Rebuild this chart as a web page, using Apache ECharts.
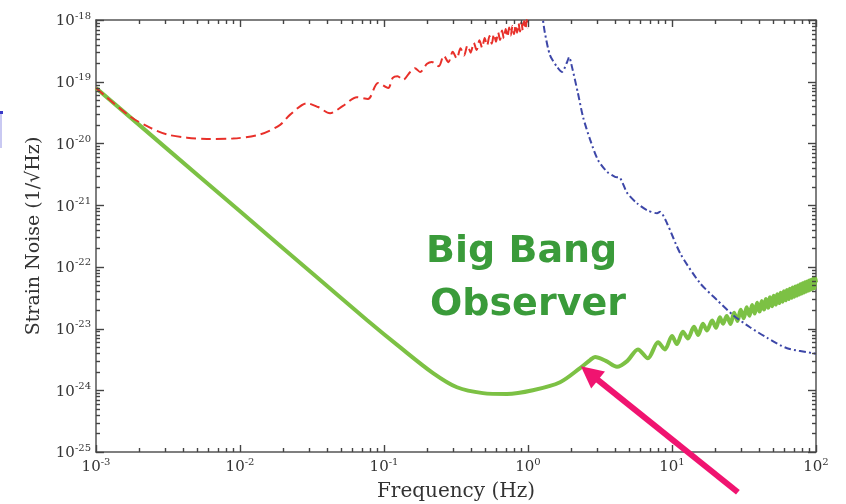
<!DOCTYPE html>
<html><head><meta charset="utf-8">
<script src="https://cdn.jsdelivr.net/npm/echarts@6/dist/echarts.min.js"></script>
<style>html,body{margin:0;padding:0;background:#fff}#c{width:846px;height:504px}</style>
</head><body><div id="c"></div>
<script>
// Axis decades (tick labels) and minor multipliers
const xDecades = [1e-3, 1e-2, 1e-1, 1e0, 1e1, 1e2];
const yDecades = [1e-25, 1e-24, 1e-23, 1e-22, 1e-21, 1e-20, 1e-19, 1e-18];
const minorMultipliers = [2, 3, 4, 5, 6, 7, 8, 9];

// Big Bang Observer (green solid)
const bboFreq = [1e-3, 3.16e-3, 1e-2, 3.16e-2, 7.6e-2, 0.129, 0.219, 0.321, 0.486, 0.714, 1.08, 1.67, 2.30, 2.70, 2.92, 3.47, 4.15, 4.9, 5.8, 6.8, 8.0, 8.93, 10.0, 10.8, 11.9, 12.9, 14.2, 15.2, 16.4, 17.5, 19.0, 20.2, 21.5, 22.6,
  24, 25.5, 27, 28.5, 30, 31.5, 33, 34.5, 36, 37.5, 39, 40.5, 42, 43.5, 45, 46.5, 48, 49.5, 51, 52.5, 54, 55.5, 57, 58.5, 60, 61.5, 63, 64.5, 66, 67.5, 69, 70.5, 72, 73.5, 75, 76.5, 78, 79.5, 81, 82.5, 84, 85.5, 87, 88.5, 90, 91.5, 93, 94.5, 96, 97.5, 99, 100];
const bboStrain = [7.94e-20, 7.94e-21, 7.94e-22, 7.94e-23, 1.38e-23, 5.0e-24, 1.9e-24, 1.12e-24, 9.0e-25, 8.7e-25, 1.0e-24, 1.35e-24, 2.29e-24, 3.09e-24, 3.47e-24, 3.0e-24, 2.4e-24, 3.0e-24, 4.6e-24, 3.3e-24, 6.0e-24, 4.6e-24, 7.6e-24, 5.6e-24, 8.9e-24, 6.9e-24, 1.07e-23, 7.9e-24, 1.2e-23, 9.3e-24, 1.35e-23, 1.03e-23, 1.52e-23, 1.2e-23,
  1.60e-23, 1.19e-23, 1.81e-23, 1.33e-23, 2.01e-23, 1.47e-23, 2.21e-23, 1.61e-23, 2.41e-23, 1.75e-23, 2.61e-23, 1.89e-23, 2.81e-23, 2.03e-23, 3.01e-23, 2.17e-23, 3.21e-23, 2.31e-23, 3.41e-23, 2.45e-23, 3.61e-23, 2.59e-23, 3.81e-23, 2.73e-23, 4.01e-23, 2.87e-23, 4.21e-23, 3.01e-23, 4.41e-23, 3.15e-23, 4.61e-23, 3.29e-23, 4.81e-23, 3.43e-23, 5.01e-23, 3.57e-23, 5.21e-23, 3.71e-23, 5.41e-23, 3.85e-23, 5.61e-23, 3.99e-23, 5.81e-23, 4.13e-23, 6.01e-23, 4.27e-23, 6.21e-23, 4.41e-23, 6.41e-23, 4.55e-23, 6.61e-23, 5.6e-23];

// Red dashed curve
const redFreq = [1e-3, 1.72e-3, 2.37e-3, 3.11e-3, 4.28e-3, 5.9e-3, 8.9e-3, 1.38e-2, 1.9e-2, 2.22e-2, 2.92e-2, 3.48e-2, 4.22e-2, 5.19e-2, 6.49e-2, 7.74e-2, 9.08e-2, 0.107, 0.115, 0.124, 0.1355, 0.152, 0.164, 0.178, 0.199, 0.215,
  0.24, 0.26, 0.28, 0.30, 0.32, 0.34, 0.36, 0.38, 0.40, 0.42, 0.44, 0.46, 0.48, 0.50, 0.52, 0.54, 0.56, 0.58, 0.60, 0.62, 0.64, 0.66, 0.68, 0.70, 0.72, 0.74, 0.76, 0.78, 0.80, 0.82, 0.84, 0.86, 0.88, 0.90, 0.92, 0.94, 0.96, 0.98, 1.0];
const redStrain = [7.94e-20, 2.75e-20, 1.8e-20, 1.4e-20, 1.24e-20, 1.18e-20, 1.2e-20, 1.4e-20, 2.0e-20, 2.9e-20, 4.47e-20, 3.89e-20, 3.09e-20, 4.07e-20, 5.62e-20, 5.25e-20, 9.55e-20, 7.94e-20, 1.15e-19, 1.23e-19, 1.07e-19, 1.44e-19, 1.66e-19, 1.44e-19, 1.95e-19, 2.09e-19,
  1.78e-19, 2.65e-19, 2.07e-19, 3.06e-19, 2.37e-19, 3.47e-19, 2.66e-19, 3.88e-19, 2.96e-19, 4.28e-19, 3.26e-19, 4.69e-19, 3.55e-19, 5.10e-19, 3.85e-19, 5.51e-19, 4.14e-19, 5.92e-19, 4.44e-19, 6.32e-19, 4.74e-19, 6.73e-19, 5.03e-19, 7.14e-19, 5.33e-19, 7.55e-19, 5.62e-19, 7.96e-19, 5.92e-19, 8.36e-19, 6.22e-19, 8.77e-19, 6.51e-19, 9.18e-19, 6.81e-19, 9.59e-19, 7.10e-19, 1.0e-18, 7.4e-19];

// Blue dash-dot curve
const blueFreq = [1.24, 1.27, 1.31, 1.42, 1.59, 1.72, 1.87, 1.93, 2.02, 2.22, 2.41, 2.70, 3.06, 3.54, 4.02, 4.36, 4.88, 5.72, 6.70, 7.87, 8.26, 9.23, 11.4, 15.6, 20.6, 26.5, 34.8, 45.7, 63, 95.5, 100];
const blueStrain = [1.4e-18, 1.0e-18, 6.2e-19, 2.7e-19, 1.74e-19, 1.44e-19, 2.09e-19, 2.51e-19, 1.74e-19, 6.6e-20, 2.69e-20, 1.15e-20, 5.4e-21, 3.47e-21, 2.88e-21, 2.75e-21, 1.58e-21, 1.07e-21, 8.3e-22, 7.4e-22, 7.8e-22, 5.1e-22, 1.66e-22, 5.5e-23, 2.88e-23, 1.66e-23, 1.05e-23, 7.1e-24, 4.8e-24, 3.98e-24, 3.9e-24];

const zip = (a, b) => a.map((v, i) => [v, b[i]]);
const xMinor = [];
xDecades.slice(0, -1).forEach(d => minorMultipliers.forEach(m => xMinor.push(d * m)));
const yMinor = [];
yDecades.slice(0, -1).forEach(d => minorMultipliers.forEach(m => yMinor.push(d * m)));

const SERIF = 'DejaVu Serif';
const AX = '#555';
function expLabel(v) {
  const e = Math.round(Math.log10(v));
  return '{b|10}{e|' + e + '}';
}
const rich = {
  b: { fontFamily: SERIF, fontSize: 15, color: '#333', verticalAlign: 'bottom' },
  e: { fontFamily: SERIF, fontSize: 10, color: '#333', verticalAlign: 'bottom', padding: [0, 0, 8, 0] }
};
function logAxis(min, max, pos, showLabel, extra) {
  return Object.assign({
    type: 'log', logBase: 10, min: min, max: max, splitNumber: 8, position: pos,
    axisLine: { show: true, onZero: false, lineStyle: { color: AX, width: 1.5 } },
    axisTick: { show: false },
    axisLabel: { show: showLabel, formatter: expLabel, rich: rich, margin: 5,
      showMinLabel: true, showMaxLabel: true, hideOverlap: false },
    splitLine: { show: false }, minorTick: { show: false }
  }, extra || {});
}

const Y_MIN = 0.99999e-25;
const chart = echarts.init(document.getElementById('c'), null, { renderer: 'canvas' });
const option = {
  backgroundColor: '#fff',
  animation: false,
  grid: { left: 96, right: 30, top: 20, bottom: 52, containLabel: false, outerBoundsMode: 'none' },
  xAxis: [
    logAxis(1e-3, 1e2, 'bottom', true, {
      name: 'Frequency (Hz)', nameLocation: 'middle', nameGap: 30, nameMoveOverlap: false,
      nameTextStyle: { fontFamily: SERIF, fontSize: 20, color: '#333' }
    }),
    logAxis(1e-3, 1e2, 'top', false)
  ],
  yAxis: [
    logAxis(Y_MIN, 1e-18, 'left', true, {
      name: 'Strain Noise (1/√Hz)', nameLocation: 'middle', nameGap: 52, nameRotate: 90, nameMoveOverlap: false,
      nameTextStyle: { fontFamily: SERIF, fontSize: 19, color: '#333' }
    }),
    logAxis(Y_MIN, 1e-18, 'right', false)
  ],
  series: [
    {
      type: 'line', data: zip(bboFreq, bboStrain), showSymbol: false, smooth: 0.3,
      lineStyle: { color: '#7cc144', width: 4 }, z: 3
    },
    {
      type: 'line', data: zip(blueFreq, blueStrain), showSymbol: false, smooth: 0.25,
      lineStyle: { color: '#3d47a8', width: 2, type: [7, 3, 2, 3] }, z: 4
    },
    {
      type: 'line', data: zip(redFreq, redStrain), showSymbol: false, smooth: 0.3,
      lineStyle: { color: '#e8302a', width: 2, type: [10, 5] }, z: 4
    }
  ]
};
chart.setOption(option);

// Major and minor ticks on all four sides, placed through the axes' own scales
const g0 = chart.convertToPixel({ gridIndex: 0 }, [1e-3, 1e-25]);
const g1 = chart.convertToPixel({ gridIndex: 0 }, [1e2, 1e-18]);
const gL = g0[0], gB = g0[1], gR = g1[0], gT = g1[1];
const graphics = [];
function tickPath(x1, y1, x2, y2) {
  return { type: 'polyline', z: 50, silent: true, shape: { points: [[x1, y1], [x2, y2]] },
    style: { stroke: '#444', lineWidth: 1.4, fill: null } };
}
function addX(v, L) {
  const x = Math.round(chart.convertToPixel({ gridIndex: 0 }, [v, 1e-20])[0]) + 0.5;
  graphics.push(tickPath(x, gB, x, gB - L));
  graphics.push(tickPath(x, gT, x, gT + L));
}
function addY(v, L) {
  const y = Math.round(chart.convertToPixel({ gridIndex: 0 }, [1, v])[1]) + 0.5;
  graphics.push(tickPath(gL, y, gL + L, y));
  graphics.push(tickPath(gR, y, gR - L, y));
}
xMinor.forEach(v => addX(v, 4));
xDecades.forEach(v => addX(v, 7));
yMinor.forEach(v => addY(v, 4));
yDecades.forEach(v => addY(v, 8));

// Annotation arrow pointing at the BBO curve near 2.33 Hz
let tip = chart.convertToPixel({ gridIndex: 0 }, [2.33, 2.45e-24]);
const tail = [tip[0] + 157, tip[1] + 126];
const dx = tip[0] - tail[0], dy = tip[1] - tail[1];
const len = Math.sqrt(dx * dx + dy * dy), ux = dx / len, uy = dy / len;
const headLen = 22, headW = 11;
const base = [tip[0] - ux * headLen, tip[1] - uy * headLen];
const PINK = '#f01470';
graphics.push(
  { type: 'line', z: 100, shape: { x1: tail[0], y1: tail[1], x2: base[0] + ux * 2, y2: base[1] + uy * 2 },
    style: { stroke: PINK, lineWidth: 6 } },
  { type: 'polygon', z: 100, shape: { points: [tip, [base[0] - uy * headW, base[1] + ux * headW], [base[0] + uy * headW, base[1] - ux * headW]] },
    style: { fill: PINK } },
  { type: 'text', z: 100, left: 426, top: 233, style: { text: 'Big Bang', font: 'bold 38px "DejaVu Sans"', fill: '#3a9b3a' } },
  { type: 'text', z: 100, left: 430, top: 286, style: { text: 'Observer', font: 'bold 38px "DejaVu Sans"', fill: '#3a9b3a' } },
  { type: 'rect', z: 100, shape: { x: 0, y: 113, width: 2, height: 35 }, style: { fill: '#c9c9f2' } },
  { type: 'rect', z: 100, shape: { x: 0, y: 111, width: 3, height: 3 }, style: { fill: '#3a3ac8' } }
);
chart.setOption({ graphic: graphics });
</script>
</body></html>
